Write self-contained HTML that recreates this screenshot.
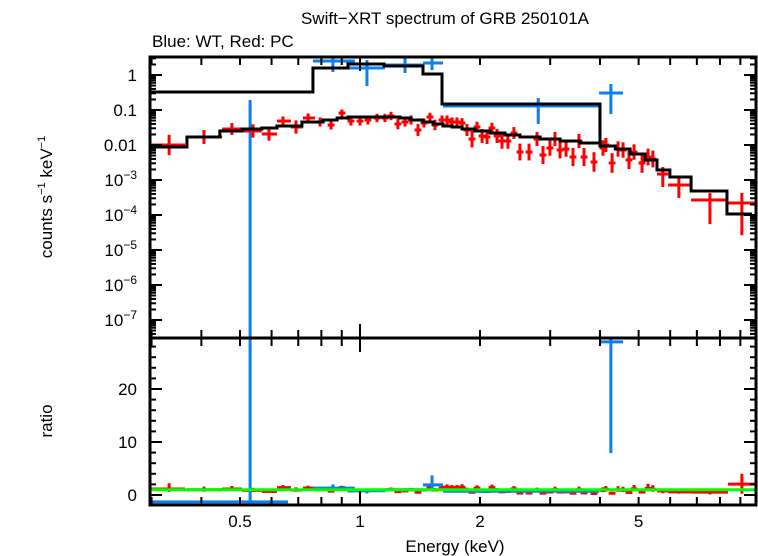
<!DOCTYPE html>
<html><head><meta charset="utf-8">
<style>
html,body{margin:0;padding:0;background:#fff;}
svg{display:block;font-family:"Liberation Sans",sans-serif;}
</style></head>
<body>
<svg id="chart" width="758" height="556" viewBox="0 0 758 556" xmlns="http://www.w3.org/2000/svg">
<text x="445" y="24" font-size="17" text-anchor="middle">Swift−XRT spectrum of GRB 250101A</text>
<text x="152" y="47" font-size="17">Blue: WT, Red: PC</text>
<text transform="translate(52,197) rotate(-90)" font-size="17" text-anchor="middle">counts s<tspan font-size="11" dy="-7">−1</tspan><tspan dy="7"> keV</tspan><tspan font-size="11" dy="-7">−1</tspan></text>
<text transform="translate(52,421) rotate(-90)" font-size="17" text-anchor="middle">ratio</text>
<text x="455" y="552" font-size="17" text-anchor="middle">Energy (keV)</text>
<g id="gTop"></g>
<g id="gBot"></g>
<g id="gAxes"></g>
</svg>
<script>
// ---- data ----
const redE=[0.332,0.406,0.477,0.539,0.591,0.641,0.691,0.741,0.794,0.846,0.901,0.949,1.0,1.047,1.103,1.155,1.196,1.245,1.297,1.343,1.398,1.447,1.498,1.542,1.606,1.653,1.702,1.751,1.803,1.855,1.910,1.966,2.024,2.083,2.143,2.207,2.271,2.350,2.433,2.519,2.655,2.780,2.878,2.996,3.084,3.176,3.288,3.423,3.543,3.648,3.864,4.07,4.14,4.29,4.44,4.57,4.73,4.87,5.10,5.28,5.43,5.75,6.31,7.55,9.08];
const redV=[0.0100,0.0169,0.0287,0.0251,0.0206,0.0485,0.0327,0.0591,0.0454,0.0373,0.082,0.0485,0.0485,0.0518,0.0591,0.0591,0.0674,0.0398,0.0454,0.0518,0.0268,0.0425,0.0631,0.0373,0.0518,0.0518,0.0454,0.0454,0.0425,0.0268,0.0148,0.0327,0.0181,0.0169,0.0306,0.0181,0.0130,0.0130,0.0220,0.0063,0.0063,0.0148,0.00518,0.0082,0.0148,0.0072,0.00768,0.00454,0.0130,0.00454,0.00327,0.0082,0.0100,0.00306,0.00768,0.0072,0.00373,0.0063,0.00306,0.00454,0.00398,0.00148,0.00072,0.000268,0.00022];
const redElo=[0.297,0.368,0.451,0.506,0.567,0.619,0.671,0.719];
const redEhi=[0.364,0.451,0.506,0.567,0.619,0.671,0.719,0.771];
const redLastElo=[5.56,5.93,6.77,8.38];
const redLastEhi=[5.93,6.77,8.38,9.91];
const redErrUp=[0.29,0.2,0.17,0.19,0.19,0.13,0.19,0.13,0.13,0.13,0.1,0.13,0.13,0.13,0.12,0.12,0.12,0.15,0.13,0.13,0.17,0.13,0.12,0.15,0.13,0.13,0.13,0.13,0.14,0.17,0.24,0.15,0.2,0.2,0.15,0.2,0.22,0.22,0.17,0.24,0.24,0.2,0.26,0.22,0.2,0.24,0.22,0.26,0.2,0.26,0.28,0.22,0.2,0.28,0.22,0.22,0.26,0.22,0.28,0.24,0.24,0.2,0.2,0.2,0.29];
const redErrDn=[0.29,0.2,0.17,0.19,0.19,0.13,0.19,0.13,0.13,0.13,0.1,0.13,0.13,0.13,0.12,0.12,0.12,0.15,0.13,0.13,0.17,0.13,0.12,0.15,0.13,0.13,0.13,0.13,0.14,0.17,0.24,0.15,0.2,0.2,0.15,0.2,0.22,0.22,0.17,0.24,0.24,0.2,0.26,0.22,0.2,0.24,0.22,0.26,0.2,0.26,0.28,0.22,0.2,0.28,0.22,0.22,0.26,0.22,0.28,0.24,0.24,0.37,0.37,0.69,0.92];
const blueE=[0.53,0.855,1.041,1.297,1.516,2.80,4.26];
const blueV=[1e-9,2.51,1.58,1.93,2.20,0.130,0.306];
const blueElo=[0.297,0.762,0.933,1.155,1.439,1.615,3.98];
const blueEhi=[0.66,0.971,1.155,1.439,1.615,3.98,4.57];
const blueVlo=[1e-9,1.22,0.485,1.14,1.39,0.0398,0.0769];
const blueVhi=[0.193,3.73,2.68,3.06,3.73,0.220,0.553];
const blueRatio=[-1.3,1.3,0.8,1.0,1.9,0.7,28.9];
const blueRatioLo=[-2.5,0.9,0.3,0.8,1.2,0.5,7.9];
const blueRatioHi=[40,2.0,1.2,1.3,3.7,1.0,30];
const redModelEdges=[0.297,0.368,0.445,0.506,0.567,0.619,0.715,0.808,0.876,0.933,1.078,1.260,1.343,1.439,1.525,1.615,1.702,1.803,1.943,2.120,2.311,2.519,2.831,3.176,3.565,4.00,4.37,4.76,5.19,5.56,5.99,6.77,8.33,9.63];
const redModelV=[0.00876,0.0169,0.0251,0.0287,0.0306,0.0349,0.0454,0.0518,0.0591,0.0631,0.0631,0.0591,0.0518,0.0454,0.0398,0.0349,0.0327,0.0287,0.0251,0.0220,0.0193,0.0169,0.0148,0.0130,0.0114,0.00935,0.00768,0.00553,0.00373,0.00193,0.00122,0.000485,0.000107];
const blueModelEdges=[0.297,0.762,0.933,1.149,1.439,1.606,4.00];
const blueModelV=[0.327,1.58,2.06,1.81,1.07,0.148];
const yTickVals=[1,0.1,0.01,1e-3,1e-4,1e-5,1e-6,1e-7];
const yTickLabels=["1","0.1","0.01","10|−3","10|−4","10|−5","10|−6","10|−7"];
const rTickVals=[0,10,20];
const xTickLabelVals=[0.5,1,2,5];

// ---- scales ----
const X0=150,X1=756,TOP0=57,TOP1=338,BOT1=505;
const xs=e=>360+398.6*Math.log10(e);
const ys=v=>75-35*Math.log10(v);
const yr=r=>495-5.3*r;
const NS="http://www.w3.org/2000/svg";
const gTop=document.getElementById('gTop'),gBot=document.getElementById('gBot'),gAx=document.getElementById('gAxes');
function mk(tag,attrs,parent){const el=document.createElementNS(NS,tag);for(const k in attrs)el.setAttribute(k,attrs[k]);parent.appendChild(el);return el;}
const clip=(v,a,b)=>Math.max(a,Math.min(b,v));
function cross(parent,x1,x2,xc,y,ylo,yhi,col,t0,t1,name){
  const g=mk('g',{},parent);
  
  
  if(y>=t0&&y<=t1) mk('line',{x1:clip(x1,X0,X1),x2:clip(x2,X0,X1),y1:y,y2:y,stroke:col,'stroke-width':3},g);
  const a=clip(ylo,t0,t1),b=clip(yhi,t0,t1);
  if(a!==b) mk('line',{x1:xc,x2:xc,y1:a,y2:b,stroke:col,'stroke-width':3},g);
}
function stepPath(edges,vals,f){let d='';for(let i=0;i<vals.length;i++){const y=clip(f(vals[i]),TOP0,TOP1);d+=(i?'L':'M')+xs(edges[i])+' '+y+'L'+xs(edges[i+1])+' '+y;}return d;}
function modelAt(e){for(let i=0;i<redModelV.length;i++){if(e>=redModelEdges[i]&&e<redModelEdges[i+1])return redModelV[i];}return redModelV[redModelV.length-1];}

for(let i=0;i<blueE.length;i++){
  cross(gTop,xs(blueElo[i]),xs(blueEhi[i]),xs(blueE[i]),ys(blueV[i]),ys(blueVlo[i]),ys(blueVhi[i]),'#0a7ff0',TOP0,TOP1,'blue-wt-point');
}
const n=redE.length;
function redX(i){
  if(i<redElo.length)return[redElo[i],redEhi[i]];
  const j=i-(n-redLastElo.length);
  if(j>=0)return[redLastElo[j],redLastEhi[j]];
  return[redE[i]/1.02,redE[i]*1.02];
}
for(let i=0;i<n;i++){
  const [lo,hi]=redX(i);
  cross(gTop,xs(lo),xs(hi),xs(redE[i]),ys(redV[i]),ys(redV[i]/Math.pow(10,redErrDn[i])),ys(redV[i]*Math.pow(10,redErrUp[i])),'#f00',TOP0,TOP1,'red-pc-point');
}
const bm=mk('path',{d:stepPath(blueModelEdges,blueModelV,ys)+'L'+xs(4.0)+' '+ys(modelAt(4.01)),fill:'none',stroke:'#000','stroke-width':3},gTop);


const rm=mk('path',{d:stepPath(redModelEdges,redModelV,ys),fill:'none',stroke:'#000','stroke-width':3},gTop);



for(let i=0;i<n;i++){
  const [lo,hi]=redX(i);const m=modelAt(redE[i]);const r=redV[i]/m;
  cross(gBot,xs(lo),xs(hi),xs(redE[i]),yr(r),yr(r/Math.pow(10,redErrDn[i])),yr(r*Math.pow(10,redErrUp[i])),'#f00',TOP1,BOT1,'red-ratio-point');
}
for(let i=0;i<blueE.length;i++){
  cross(gBot,xs(blueElo[i]),xs(blueEhi[i]),xs(blueE[i]),yr(blueRatio[i]),yr(blueRatioLo[i]),yr(blueRatioHi[i]),'#0a7ff0',TOP1,BOT1,'blue-ratio-point');
}
const gl=mk('line',{x1:X0,x2:X1,y1:yr(1),y2:yr(1),stroke:'#0f0','stroke-width':3},gBot);



for(const [y0,y1,nm] of [[TOP0,TOP1,'spectrum-frame'],[TOP1,BOT1,'ratio-frame']]){
  const r=mk('rect',{x:X0,y:y0,width:X1-X0,height:y1-y0,fill:'none',stroke:'#000','stroke-width':3},gAx);
  
  
}
const xt=[];for(let d=0.3;d<1;d+=0.1)xt.push(+d.toFixed(1));for(let d=1;d<=9;d++)xt.push(d);
for(const e of xt){const x=xs(e);if(x<X0||x>X1)continue;const L=e===1?14:8;
  for(const y of [TOP0,TOP1,BOT1]){
    if(y!==TOP0) mk('line',{x1:x,x2:x,y1:y,y2:y-L,stroke:'#000','stroke-width':2},gAx);
    if(y!==BOT1) mk('line',{x1:x,x2:x,y1:y,y2:y+L,stroke:'#000','stroke-width':2},gAx);
  }}
for(const e of xTickLabelVals){const t=mk('text',{x:xs(e),y:527,'font-size':17,'text-anchor':'middle'},gAx);t.textContent=String(e);
  
  }
for(let p=-8;p<=1;p++){for(let k=1;k<=9;k++){const v=k*Math.pow(10,p);const y=ys(v);if(y<TOP0||y>TOP1)continue;const L=k===1?12:6;
  mk('line',{x1:X0,x2:X0+L,y1:y,y2:y,stroke:'#000','stroke-width':2},gAx);
  mk('line',{x1:X1,x2:X1-L,y1:y,y2:y,stroke:'#000','stroke-width':2},gAx);}}
yTickVals.forEach((v,i)=>{const parts=yTickLabels[i].split('|');const t=mk('text',{x:137,y:ys(v)+6,'font-size':17,'text-anchor':'end'},gAx);
  
  
  if(parts.length===1)t.textContent=parts[0];else{t.textContent=parts[0];const s=mk('tspan',{'font-size':12,dy:-7},t);s.textContent=parts[1];}});
for(let r=-2;r<=28;r+=2){const y=yr(r);if(y<TOP1||y>BOT1)continue;const L=r%10===0?12:6;
  mk('line',{x1:X0,x2:X0+L,y1:y,y2:y,stroke:'#000','stroke-width':2},gAx);
  mk('line',{x1:X1,x2:X1-L,y1:y,y2:y,stroke:'#000','stroke-width':2},gAx);}
rTickVals.forEach(v=>{const t=mk('text',{x:137,y:yr(v)+6,'font-size':17,'text-anchor':'end'},gAx);t.textContent=String(v);
  
  });
</script>
</body></html>
